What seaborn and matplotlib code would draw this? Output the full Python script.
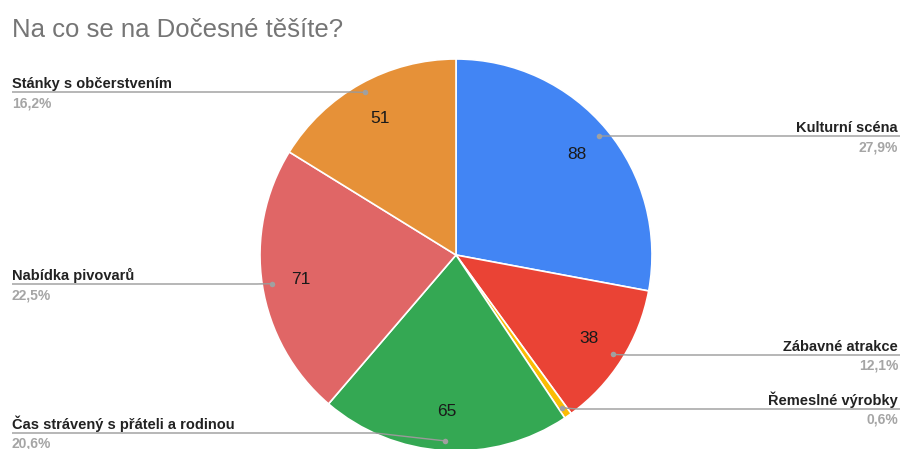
import numpy as np
import matplotlib
matplotlib.use("Agg")
import matplotlib.pyplot as plt
import seaborn as sns

# Survey answers: "Na co se na Dočesné těšíte?"
categories = [
    "Kulturní scéna",
    "Zábavné atrakce",
    "Řemeslné výrobky",
    "Čas strávený s přáteli a rodinou",
    "Nabídka pivovarů",
    "Stánky s občerstvením",
]
counts = [88, 38, 2, 65, 71, 51]
pct_labels = ["27,9%", "12,1%", "0,6%", "20,6%", "22,5%", "16,2%"]
slice_colors = ["#4285F4", "#EA4335", "#FBBC04", "#34A853", "#E06666", "#E69138"]

sns.set_theme(style="white")
plt.rcParams["font.family"] = ["Liberation Sans", "DejaVu Sans"]

W, H = 901, 449
fig = plt.figure(figsize=(W / 100, H / 100), dpi=100)
ax = fig.add_axes([0, 0, 1, 1])

cx, cy, R = 456, H - 255, 196
total = sum(counts)

wedges, _, autotexts = ax.pie(
    counts,
    colors=slice_colors,
    startangle=90,
    counterclock=False,
    center=(cx, cy),
    radius=R,
    autopct=lambda p: f"{round(p * total / 100)}" if p > 2 else "",
    pctdistance=0.8,
    wedgeprops=dict(edgecolor="white", linewidth=1.2),
    textprops=dict(fontsize=12.5, color="#1a1a1a"),
)
ax.set_xlim(0, W)
ax.set_ylim(0, H)
ax.set_aspect("auto")
ax.axis("off")

# Leader line rows (pixel rows from the top) and the side each label sits on
line_rows = [136, 355, 409, 433, 284, 92]
sides = ["right", "right", "right", "left", "left", "left"]

line_col = "#9a9a9a"
for w, name, pct, row, side in zip(wedges, categories, pct_labels, line_rows, sides):
    mid = np.deg2rad((w.theta1 + w.theta2) / 2)
    dx = cx + 0.95 * R * np.cos(mid)
    dy = cy + 0.95 * R * np.sin(mid)
    ly = H - row
    if side == "right":
        xs = [dx, dx + 15, 900]
        tx, ha = 898, "right"
    else:
        bend = dx - 70 if abs(ly - dy) > 3 else dx - 15
        xs = [dx, bend, 12]
        tx, ha = 12, "left"
    ax.plot(xs, [dy, ly, ly], color=line_col, lw=1.0, solid_capstyle="butt", zorder=3)
    ax.plot([dx], [dy], "o", ms=4, color="#a0a0a0", mec="none", zorder=4)
    ax.text(tx, ly + 4, name, ha=ha, va="baseline", fontsize=10.5,
            fontweight="bold", color="#222222")
    ax.text(tx, ly - 4, pct, ha=ha, va="top", fontsize=10,
            fontweight="bold", color="#a5a5a5")

fig.text(12 / W, 1 - 37 / H, "Na co se na Dočesné těšíte?", ha="left",
         va="baseline", fontsize=18.5, color="#757575")

fig.savefig("out.png", dpi=100, facecolor="white")
